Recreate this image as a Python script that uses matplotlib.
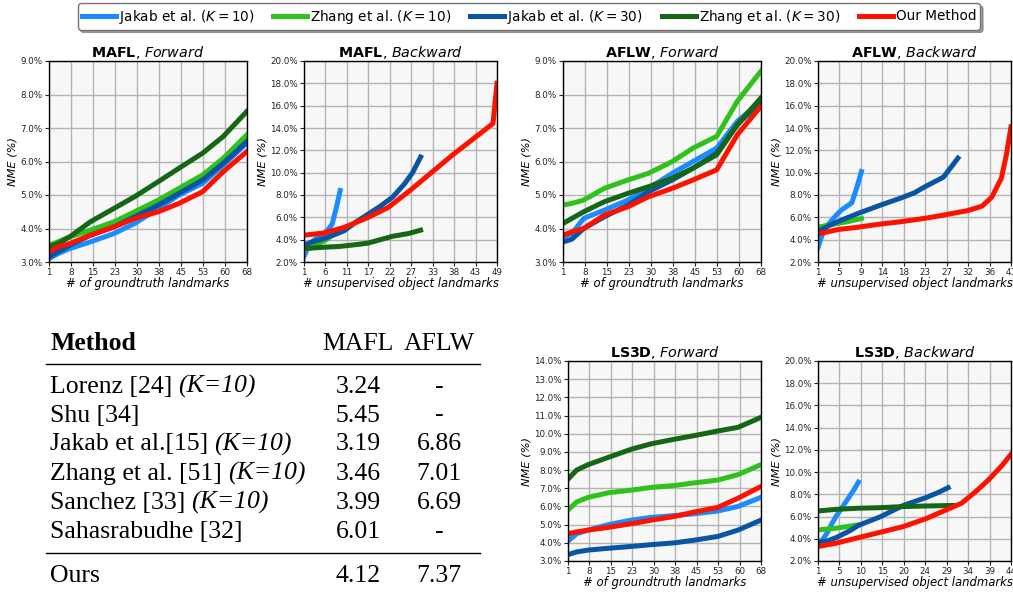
import matplotlib
matplotlib.use('Agg')
import matplotlib.pyplot as plt
from matplotlib.lines import Line2D
from matplotlib.ticker import FuncFormatter
import numpy as np


LABELS = ['Jakab et al. ($K=10$)', 'Zhang et al. ($K=10$)',
          'Jakab et al. ($K=30$)', 'Zhang et al. ($K=30$)', 'Our Method']
COLORS = ['#1a8cff', '#2ec21a', '#0a55a3', '#156615', '#ff1100']

# forward panels: all methods share the same x samples
FWD_X = [1, 4, 8, 15, 23, 30, 38, 45, 53, 60, 68]

MAFL_FWD_JAKAB10 = [3.1, 3.25, 3.4, 3.6, 3.85, 4.15, 4.6, 5.0, 5.35, 5.9, 6.55]
MAFL_FWD_ZHANG10 = [3.5, 3.6, 3.75, 3.95, 4.2, 4.5, 4.85, 5.2, 5.6, 6.1, 6.8]
MAFL_FWD_JAKAB30 = [3.15, 3.3, 3.5, 3.8, 4.05, 4.35, 4.7, 5.05, 5.45, 5.95, 6.6]
MAFL_FWD_ZHANG30 = [3.45, 3.55, 3.75, 4.2, 4.6, 4.95, 5.4, 5.8, 6.25, 6.75, 7.5]
MAFL_FWD_OURS = [3.3, 3.45, 3.55, 3.8, 4.05, 4.3, 4.5, 4.75, 5.1, 5.7, 6.3]

AFLW_FWD_JAKAB10 = [3.75, 3.85, 4.3, 4.55, 4.85, 5.2, 5.65, 6.0, 6.4, 7.2, 7.8]
AFLW_FWD_ZHANG10 = [4.7, 4.75, 4.85, 5.2, 5.45, 5.65, 6.0, 6.4, 6.75, 7.8, 8.7]
AFLW_FWD_JAKAB30 = [3.6, 3.68, 4.0, 4.35, 4.7, 5.1, 5.45, 5.8, 6.25, 7.1, 7.8]
AFLW_FWD_ZHANG30 = [4.15, 4.3, 4.5, 4.8, 5.05, 5.25, 5.5, 5.8, 6.2, 7.1, 7.9]
AFLW_FWD_OURS = [3.8, 3.9, 4.0, 4.4, 4.65, 4.95, 5.2, 5.45, 5.75, 6.8, 7.65]

LS3D_FWD_JAKAB10 = [4.1, 4.5, 4.7, 5.0, 5.25, 5.4, 5.5, 5.6, 5.75, 6.0, 6.5]
LS3D_FWD_ZHANG10 = [5.8, 6.25, 6.5, 6.75, 6.9, 7.05, 7.15, 7.3, 7.45, 7.75, 8.3]
LS3D_FWD_JAKAB30 = [3.35, 3.5, 3.6, 3.7, 3.8, 3.9, 4.0, 4.15, 4.35, 4.7, 5.25]
LS3D_FWD_ZHANG30 = [7.5, 8.0, 8.3, 8.7, 9.15, 9.45, 9.7, 9.9, 10.15, 10.35, 10.9]
LS3D_FWD_OURS = [4.5, 4.6, 4.7, 4.85, 5.05, 5.25, 5.45, 5.7, 5.95, 6.45, 7.1]

# backward panels: each method has its own number of landmarks
MAFL_BWD_JAKAB10_X = [1, 2, 3, 4, 5, 6, 7, 8, 9, 10]
MAFL_BWD_JAKAB10 = [2.5, 3.3, 3.8, 4.1, 4.3, 4.6, 4.9, 5.4, 6.8, 8.4]
MAFL_BWD_ZHANG10_X = [1, 2, 3, 4, 5, 6, 7, 8]
MAFL_BWD_ZHANG10 = [3.1, 3.2, 3.3, 3.5, 3.7, 3.9, 4.1, 4.4]
MAFL_BWD_JAKAB30_X = [1, 3, 6, 9, 11, 14, 17, 20, 23, 26, 28, 30]
MAFL_BWD_JAKAB30 = [3.5, 3.8, 4.1, 4.5, 4.8, 5.6, 6.3, 7.0, 7.8, 9.0, 10.0, 11.4]
MAFL_BWD_ZHANG30_X = [1, 5, 10, 15, 17, 20, 23, 27, 30]
MAFL_BWD_ZHANG30 = [3.2, 3.3, 3.4, 3.6, 3.7, 4.0, 4.3, 4.55, 4.85]
MAFL_BWD_OURS_X = [1, 6, 11, 17, 22, 27, 33, 38, 43, 48, 49]
MAFL_BWD_OURS = [4.4, 4.6, 5.1, 6.0, 6.9, 8.3, 10.1, 11.6, 13.0, 14.4, 18.0]

AFLW_BWD_JAKAB10_X = [1, 2, 3, 4, 5, 6, 7, 8, 9, 10]
AFLW_BWD_JAKAB10 = [3.3, 4.6, 5.3, 5.8, 6.3, 6.7, 7.0, 7.3, 8.6, 10.1]
AFLW_BWD_ZHANG10_X = [1, 3, 5, 7, 9, 10]
AFLW_BWD_ZHANG10 = [5.1, 5.3, 5.45, 5.6, 5.8, 5.9]
AFLW_BWD_JAKAB30_X = [1, 3, 5, 9, 14, 18, 21, 23, 27, 30]
AFLW_BWD_JAKAB30 = [4.7, 5.2, 5.6, 6.3, 7.1, 7.7, 8.2, 8.7, 9.6, 11.3]
AFLW_BWD_OURS_X = [1, 5, 9, 14, 18, 23, 27, 32, 35, 37, 39, 40, 41]
AFLW_BWD_OURS = [4.5, 4.9, 5.1, 5.4, 5.6, 5.9, 6.2, 6.6, 7.0, 7.8, 9.5, 11.5, 14.1]

LS3D_BWD_JAKAB10_X = [1, 2, 3, 4, 5, 6, 7, 8, 9, 10]
LS3D_BWD_JAKAB10 = [3.6, 3.9, 4.5, 5.3, 6.0, 6.6, 7.2, 7.8, 8.4, 9.1]
LS3D_BWD_ZHANG10_X = [1, 5, 10]
LS3D_BWD_ZHANG10 = [4.8, 4.95, 5.25]
LS3D_BWD_JAKAB30_X = [1, 3, 5, 8, 10, 15, 20, 25, 28, 30]
LS3D_BWD_JAKAB30 = [3.7, 3.8, 4.1, 4.7, 5.2, 6.0, 7.0, 7.7, 8.2, 8.6]
LS3D_BWD_ZHANG30_X = [1, 5, 10, 15, 20, 25, 31]
LS3D_BWD_ZHANG30 = [6.5, 6.65, 6.75, 6.8, 6.9, 6.95, 7.0]
LS3D_BWD_OURS_X = [1, 5, 10, 15, 20, 25, 29, 33, 36, 39, 42, 44]
LS3D_BWD_OURS = [3.3, 3.6, 4.1, 4.6, 5.1, 5.8, 6.5, 7.2, 8.2, 9.3, 10.6, 11.6]

# table next to the plots
TABLE_METHODS = ['Lorenz [24]', 'Shu [34]', 'Jakab et al.[15]', 'Zhang et al. [51]',
                 'Sanchez [33]', 'Sahasrabudhe [32]']
TABLE_K10 = [True, False, True, True, True, False]
TABLE_MAFL = ['3.24', '5.45', '3.19', '3.46', '3.99', '6.01']
TABLE_AFLW = ['-', '-', '6.86', '7.01', '6.69', '-']
OURS_MAFL = '4.12'
OURS_AFLW = '7.37'

W, H = 1013, 592


def draw_panel(fig, rect, dataset, direction, series, n_max, ylim, ystep, xlabel):
    ax = fig.add_axes(rect)
    ax.set_facecolor('#f7f7f7')
    ax.set_axisbelow(True)
    handles = []
    for x, y, idx in series:
        h, = ax.plot(x, y, color=COLORS[idx], lw=3.6, label=LABELS[idx])
        handles.append(h)
    ax.set_xlim(1, n_max)
    ax.set_ylim(*ylim)
    xt = np.linspace(1, n_max, 10)
    ax.set_xticks(xt)
    ax.set_xticklabels([str(int(t + 1e-9)) for t in xt])
    ax.set_yticks(np.arange(ylim[0], ylim[1] + 1e-6, ystep))
    ax.yaxis.set_major_formatter(FuncFormatter(lambda v, p: f'{v:.1f}%'))
    ax.tick_params(labelsize=6.3, length=3, width=0.8, pad=1.5, colors='#222222')
    ax.grid(True, color='#b4b4b4', lw=1.0)
    for s in ax.spines.values():
        s.set_color('black')
        s.set_linewidth(1.0)
    ax.set_title(r'$\mathbf{' + dataset + r'}$, $\mathit{' + direction + '}$',
                 fontsize=10.3, pad=3)
    ax.set_xlabel(xlabel, fontsize=8.4, fontstyle='italic', labelpad=0)
    ax.set_ylabel('NME (%)', fontsize=8.2, fontstyle='italic', labelpad=2)
    return handles


def px_rect(x0, y0, x1, y1):
    return [x0 / W, 1 - y1 / H, (x1 - x0) / W, (y1 - y0) / H]


def draw_table(fig):
    serif = 'Liberation Serif'
    fs = 18.5
    renderer = fig.canvas.get_renderer()

    def put(x, y, s, **kw):
        return fig.text(x / W, 1 - y / H, s, fontsize=fs, family=serif,
                        va='baseline', **kw)

    put(50, 350, 'Method', fontweight='bold')
    put(358, 350, 'MAFL', ha='center')
    put(439, 350, 'AFLW', ha='center')

    row_y = [393, 421.5, 450.5, 480, 509, 538]
    for y, name, k10, m, a in zip(row_y, TABLE_METHODS, TABLE_K10, TABLE_MAFL, TABLE_AFLW):
        t = put(50, y, name)
        if k10:
            bb = t.get_window_extent(renderer)
            put(bb.x1 + 6, y, '(K=10)', fontstyle='italic')
        put(358, y, m, ha='center')
        put(439, y, a, ha='center')

    put(50, 581.5, 'Ours')
    put(358, 581.5, OURS_MAFL, ha='center')
    put(439, 581.5, OURS_AFLW, ha='center')

    for y in (364, 553):
        fig.add_artist(Line2D([46 / W, 480 / W], [1 - y / H, 1 - y / H],
                              color='black', lw=1.0))


def main():
    fig = plt.figure(figsize=(W / 100, H / 100), dpi=100)
    fwd_label = '# of groundtruth landmarks'
    bwd_label = '# unsupervised object landmarks'

    handles = draw_panel(
        fig, px_rect(49, 61, 247, 262), 'MAFL', 'Forward',
        [(FWD_X, MAFL_FWD_JAKAB10, 0), (FWD_X, MAFL_FWD_ZHANG10, 1),
         (FWD_X, MAFL_FWD_JAKAB30, 2), (FWD_X, MAFL_FWD_ZHANG30, 3),
         (FWD_X, MAFL_FWD_OURS, 4)],
        68, (3, 9), 1, fwd_label)

    draw_panel(
        fig, px_rect(304, 61, 497, 262), 'MAFL', 'Backward',
        [(MAFL_BWD_JAKAB10_X, MAFL_BWD_JAKAB10, 0), (MAFL_BWD_ZHANG10_X, MAFL_BWD_ZHANG10, 1),
         (MAFL_BWD_JAKAB30_X, MAFL_BWD_JAKAB30, 2), (MAFL_BWD_ZHANG30_X, MAFL_BWD_ZHANG30, 3),
         (MAFL_BWD_OURS_X, MAFL_BWD_OURS, 4)],
        49, (2, 20), 2, bwd_label)

    draw_panel(
        fig, px_rect(563, 61, 761, 262), 'AFLW', 'Forward',
        [(FWD_X, AFLW_FWD_JAKAB10, 0), (FWD_X, AFLW_FWD_ZHANG10, 1),
         (FWD_X, AFLW_FWD_JAKAB30, 2), (FWD_X, AFLW_FWD_ZHANG30, 3),
         (FWD_X, AFLW_FWD_OURS, 4)],
        68, (3, 9), 1, fwd_label)

    draw_panel(
        fig, px_rect(818, 61, 1011, 262), 'AFLW', 'Backward',
        [(AFLW_BWD_JAKAB10_X, AFLW_BWD_JAKAB10, 0), (AFLW_BWD_ZHANG10_X, AFLW_BWD_ZHANG10, 1),
         (AFLW_BWD_JAKAB30_X, AFLW_BWD_JAKAB30, 2), (AFLW_BWD_OURS_X, AFLW_BWD_OURS, 4)],
        41, (2, 20), 2, bwd_label)

    draw_panel(
        fig, px_rect(568, 361, 761, 561), 'LS3D', 'Forward',
        [(FWD_X, LS3D_FWD_JAKAB10, 0), (FWD_X, LS3D_FWD_ZHANG10, 1),
         (FWD_X, LS3D_FWD_JAKAB30, 2), (FWD_X, LS3D_FWD_ZHANG30, 3),
         (FWD_X, LS3D_FWD_OURS, 4)],
        68, (3, 14), 1, fwd_label)

    draw_panel(
        fig, px_rect(818, 361, 1011, 561), 'LS3D', 'Backward',
        [(LS3D_BWD_JAKAB10_X, LS3D_BWD_JAKAB10, 0), (LS3D_BWD_ZHANG10_X, LS3D_BWD_ZHANG10, 1),
         (LS3D_BWD_JAKAB30_X, LS3D_BWD_JAKAB30, 2), (LS3D_BWD_ZHANG30_X, LS3D_BWD_ZHANG30, 3),
         (LS3D_BWD_OURS_X, LS3D_BWD_OURS, 4)],
        44, (2, 20), 2, bwd_label)

    leg = fig.legend(handles, LABELS, loc='center', bbox_to_anchor=(529 / W, 1 - 16.5 / H),
                     ncol=5, fontsize=9.8, frameon=True, shadow=True, fancybox=True,
                     handlelength=2.5, handletextpad=0.2, columnspacing=1.4,
                     borderpad=0.3)
    leg.get_frame().set_edgecolor('0.45')
    leg.get_frame().set_alpha(1.0)

    draw_table(fig)

    fig.savefig('out.png', dpi=100)


if __name__ == '__main__':
    main()
